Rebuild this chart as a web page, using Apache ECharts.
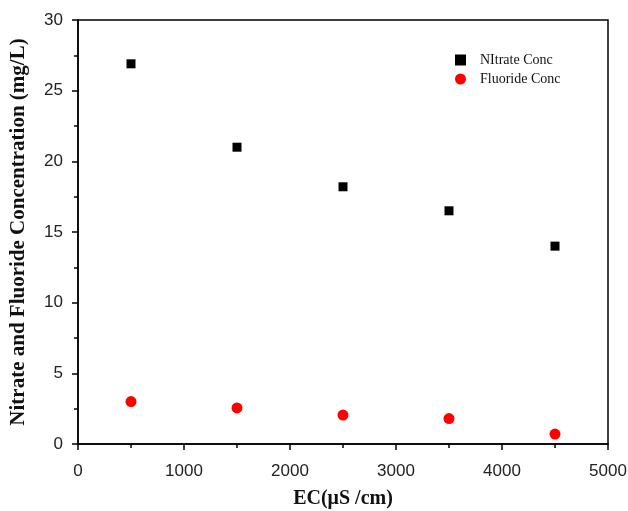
<!DOCTYPE html>
<html>
<head>
<meta charset="utf-8">
<script src="https://cdn.jsdelivr.net/npm/echarts@6/dist/echarts.min.js"></script>
<style>
  html, body { margin: 0; padding: 0; background: #fff; }
  #chart { width: 628px; height: 511px; }
</style>
</head>
<body>
<div id="chart"></div>
<script>
// EC values (µS/cm)
const ecValues = [500, 1500, 2500, 3500, 4500];
// concentrations (mg/L)
const nitrateConc = [26.9, 21.0, 18.2, 16.5, 14.0];
const fluorideConc = [3.0, 2.55, 2.05, 1.8, 0.7];

const seriesNames = ['NItrate Conc', 'Fluoride Conc'];

const chart = echarts.init(document.getElementById('chart'));

const tickFont = { fontFamily: 'Liberation Sans, Arial', fontSize: 17, color: '#222' };
const axisLine = { show: true, lineStyle: { color: '#000', width: 1.5 } };
const titleFont = { fontFamily: 'Liberation Serif, Times New Roman', fontWeight: 'bold', color: '#111' };

const option = {
  backgroundColor: '#fff',
  animation: false,
  grid: {
    left: 78, right: 20, top: 20, bottom: 67,
    show: true, borderColor: '#000', borderWidth: 1.5,
    containLabel: false,
    outerBoundsMode: 'none'
  },
  legend: {
    orient: 'vertical',
    left: 450, top: 48,
    itemWidth: 11, itemHeight: 11, itemGap: 5,
    textStyle: { fontFamily: 'Liberation Serif, Times New Roman', fontSize: 14, color: '#111', padding: [0, 0, 0, 9] },
    data: [
      { name: seriesNames[0], icon: 'rect', itemStyle: { color: '#000' } },
      { name: seriesNames[1], icon: 'circle', itemStyle: { color: '#ff0000' } }
    ]
  },
  xAxis: {
    type: 'value',
    min: 0, max: 5000, interval: 1000,
    name: 'EC(μS /cm)',
    nameLocation: 'middle',
    nameGap: 45,
    nameTextStyle: Object.assign({ fontSize: 20 }, titleFont),
    axisLine: axisLine,
    axisTick: { show: true, length: 6, lineStyle: { color: '#000', width: 1.5 } },
    minorTick: { show: true, splitNumber: 2, length: 4, lineStyle: { color: '#000', width: 1.5 } },
    axisLabel: Object.assign({ margin: 19, formatter: v => String(v) }, tickFont),
    splitLine: { show: false }
  },
  yAxis: {
    type: 'value',
    min: 0, max: 30, interval: 5,
    name: 'Nitrate and Fluoride Concentration (mg/L)',
    nameLocation: 'middle',
    nameGap: 49,
    nameTextStyle: Object.assign({ fontSize: 21 }, titleFont),
    axisLine: axisLine,
    axisTick: { show: true, length: 6, lineStyle: { color: '#000', width: 1.5 } },
    minorTick: { show: true, splitNumber: 2, length: 4, lineStyle: { color: '#000', width: 1.5 } },
    axisLabel: Object.assign({ margin: 15 }, tickFont),
    splitLine: { show: false }
  },
  series: [
    {
      name: seriesNames[0],
      type: 'scatter',
      symbol: 'rect',
      symbolSize: 9,
      itemStyle: { color: '#000', opacity: 1 },
      data: ecValues.map((x, i) => [x, nitrateConc[i]])
    },
    {
      name: seriesNames[1],
      type: 'scatter',
      symbol: 'circle',
      symbolSize: 11,
      itemStyle: { color: '#ff0000', opacity: 1 },
      data: ecValues.map((x, i) => [x, fluorideConc[i]])
    }
  ]
};

chart.setOption(option);
</script>
</body>
</html>
